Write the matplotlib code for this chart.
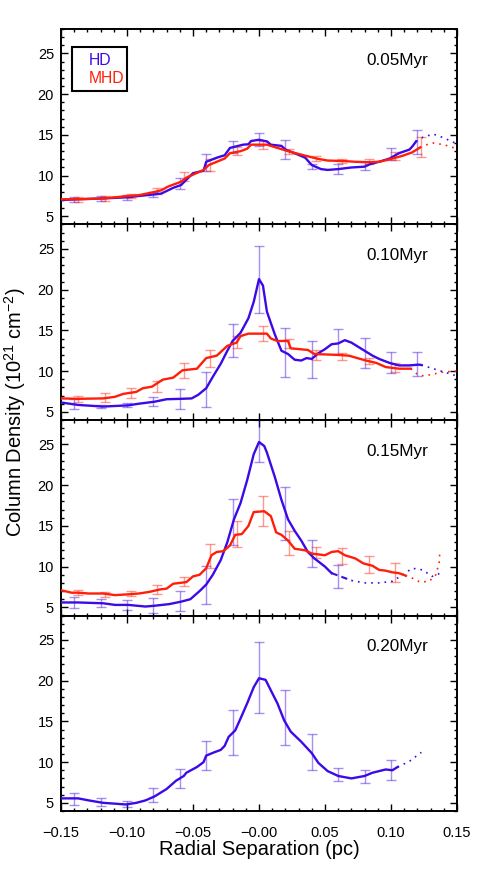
import numpy as np
import matplotlib
matplotlib.use("Agg")
import matplotlib.pyplot as plt
from matplotlib.ticker import MultipleLocator, FixedLocator, FixedFormatter
from matplotlib.patches import Rectangle

plt.rcParams['font.family'] = ['Liberation Sans', 'DejaVu Sans']
plt.rcParams['mathtext.fontset'] = 'custom'
plt.rcParams['mathtext.rm'] = 'Liberation Sans'
plt.rcParams['mathtext.it'] = 'Liberation Sans:italic'

# ---------------- data ----------------
times = ["0.05Myr", "0.10Myr", "0.15Myr", "0.20Myr"]
xtick_vals = [-0.15, -0.10, -0.05, 0.0, 0.05, 0.10, 0.15]
xtick_labels = ["\u22120.15", "\u22120.10", "\u22120.05", "\u22120.00", "0.05", "0.10", "0.15"]
ytick_vals = [5, 10, 15, 20, 25]

# Panel 1 (0.05 Myr)
hd1_x = [-0.150, -0.137, -0.118, -0.099, -0.091, -0.079, -0.074, -0.065, -0.059, -0.055, -0.050, -0.042,
         -0.040, -0.032, -0.026, -0.022, -0.012, -0.008, -0.006, 0.000, 0.006, 0.009, 0.017, 0.020, 0.027,
         0.035, 0.040, 0.047, 0.052, 0.060, 0.070, 0.080, 0.084, 0.091, 0.099, 0.106, 0.114, 0.116, 0.119]
hd1_y = [7.0, 7.1, 7.2, 7.35, 7.5, 7.7, 7.8, 8.5, 8.85, 9.5, 10.3, 10.6, 11.7, 12.2, 12.5, 13.4, 13.8, 13.85,
         14.25, 14.4, 14.2, 13.8, 13.65, 13.2, 12.75, 12.2, 11.3, 10.8, 10.7, 10.8, 11.0, 11.1, 11.4, 11.7,
         12.1, 12.75, 13.2, 13.55, 14.2]
hd1_ext_x = [0.119, 0.124, 0.132, 0.139, 0.150]
hd1_ext_y = [14.2, 14.7, 15.1, 14.7, 13.9]
mhd1_x = [-0.150, -0.137, -0.118, -0.099, -0.091, -0.079, -0.074, -0.069, -0.059, -0.055, -0.042, -0.038,
          -0.032, -0.026, -0.022, -0.014, -0.009, -0.006, 0.006, 0.012, 0.022, 0.035, 0.045, 0.052, 0.063,
          0.073, 0.083, 0.091, 0.099, 0.109, 0.116, 0.122]
mhd1_y = [7.1, 7.1, 7.2, 7.5, 7.6, 8.0, 8.2, 8.65, 9.25, 9.75, 10.7, 11.3, 11.7, 12.1, 12.75, 13.0, 13.3,
          13.8, 13.8, 13.5, 13.0, 12.45, 12.05, 11.85, 11.8, 11.7, 11.65, 11.7, 12.0, 12.45, 12.85, 13.45]
mhd1_ext_x = [0.122, 0.127, 0.132, 0.140, 0.150]
mhd1_ext_y = [13.45, 13.8, 14.0, 13.8, 13.3]
hd1_eb_y = [7.1, 7.2, 7.35, 7.7, 9.0, 11.6, 13.5, 14.4, 13.2, 11.1, 10.8, 11.2, 12.7, 14.1]
hd1_eb_e = [0.3, 0.35, 0.3, 0.3, 0.7, 1.0, 0.75, 0.8, 1.2, 0.3, 0.6, 0.5, 0.75, 1.5]
mhd1_eb_y = [7.1, 7.2, 7.5, 8.1, 9.9, 11.3, 13.0, 13.8, 13.0, 12.1, 11.8, 11.7, 12.4, 13.5]
mhd1_eb_e = [0.3, 0.3, 0.3, 0.35, 0.6, 0.7, 0.5, 0.5, 0.3, 0.3, 0.3, 0.3, 0.5, 1.2]

# Panel 2 (0.10 Myr)
hd2_x = [-0.150, -0.137, -0.118, -0.099, -0.091, -0.079, -0.070, -0.059, -0.051, -0.046, -0.040, -0.035,
         -0.029, -0.024, -0.020, -0.014, -0.008, -0.004, 0.000, 0.003, 0.006, 0.012, 0.017, 0.022, 0.027,
         0.032, 0.036, 0.040, 0.045, 0.050, 0.055, 0.060, 0.065, 0.070, 0.080, 0.086, 0.091, 0.099, 0.106,
         0.114, 0.121, 0.123]
hd2_y = [6.15, 5.85, 5.65, 5.8, 6.0, 6.25, 6.55, 6.6, 6.65, 7.1, 7.9, 9.3, 10.9, 12.5, 13.7, 14.7, 16.5,
         18.5, 21.3, 20.5, 17.3, 14.5, 12.5, 12.1, 11.4, 11.3, 11.6, 11.5, 12.2, 12.7, 13.3, 13.4, 13.8, 13.5,
         12.5, 11.9, 11.5, 11.0, 10.7, 10.7, 10.8, 10.75]
hd2_ext_x = [0.123, 0.130, 0.140, 0.150]
hd2_ext_y = [10.75, 10.4, 9.9, 9.4]
mhd2_x = [-0.150, -0.137, -0.118, -0.109, -0.103, -0.093, -0.088, -0.081, -0.073, -0.065, -0.058, -0.047,
          -0.040, -0.032, -0.024, -0.017, -0.014, -0.008, 0.006, 0.009, 0.014, 0.022, 0.024, 0.037, 0.042,
          0.058, 0.068, 0.081, 0.089, 0.096, 0.106, 0.115]
mhd2_y = [6.65, 6.6, 6.65, 6.85, 7.2, 7.45, 7.9, 8.1, 8.95, 9.2, 10.1, 10.3, 11.6, 11.9, 13.1, 13.5, 14.3,
          14.6, 14.6, 14.0, 13.7, 13.7, 12.8, 12.6, 12.1, 12.0, 11.9, 11.3, 11.0, 10.5, 10.3, 10.3]
mhd2_ext_x = [0.115, 0.120, 0.125, 0.140, 0.150]
mhd2_ext_y = [10.3, 9.6, 9.4, 9.9, 10.0]
hd2_eb_y = [5.95, 5.7, 5.85, 6.3, 6.6, 7.75, 13.75, 21.2, 12.3, 11.45, 13.65, 12.2, 11.05, 10.85]
hd2_eb_e = [0.6, 0.2, 0.2, 0.55, 1.2, 2.1, 2.05, 4.1, 3.0, 2.3, 1.55, 1.85, 1.3, 1.45]
mhd2_eb_y = [6.6, 6.75, 7.35, 8.1, 10.1, 11.6, 13.6, 14.6, 13.4, 12.0, 11.8, 11.2, 10.5]
mhd2_eb_e = [0.35, 0.6, 0.6, 0.7, 0.9, 1.05, 0.75, 0.95, 0.6, 0.6, 0.4, 0.35, 0.55]

# Panel 3 (0.15 Myr)
hd3_x = [-0.150, -0.137, -0.118, -0.109, -0.099, -0.086, -0.079, -0.068, -0.059, -0.052, -0.045, -0.040,
         -0.035, -0.029, -0.024, -0.019, -0.014, -0.009, -0.004, 0.000, 0.004, 0.006, 0.012, 0.017, 0.022,
         0.027, 0.032, 0.037, 0.042, 0.050, 0.055]
hd3_y = [5.6, 5.6, 5.5, 5.3, 5.3, 5.1, 5.2, 5.4, 5.7, 6.0, 7.0, 7.8, 9.0, 10.8, 13.0, 15.8, 17.8, 20.6,
         23.8, 25.3, 24.8, 24.0, 21.0, 18.2, 15.8, 14.4, 13.2, 11.8, 11.0, 10.0, 9.2]
hd3_dash_x = [0.055, 0.060, 0.070]
hd3_dash_y = [9.2, 8.9, 8.3]
hd3_ext_x = [0.070, 0.080, 0.091, 0.101, 0.109, 0.116, 0.124, 0.131, 0.135, 0.137]
hd3_ext_y = [8.3, 8.0, 8.0, 8.2, 9.0, 9.8, 9.6, 8.8, 9.0, 9.2]
mhd3_x = [-0.150, -0.142, -0.137, -0.129, -0.118, -0.109, -0.099, -0.091, -0.083, -0.075, -0.070, -0.065,
          -0.055, -0.050, -0.045, -0.040, -0.036, -0.032, -0.027, -0.022, -0.018, -0.013, -0.008, -0.004,
          0.004, 0.009, 0.013, 0.017, 0.022, 0.027, 0.035, 0.040, 0.050, 0.055, 0.060, 0.065, 0.073, 0.079,
          0.086, 0.091, 0.096, 0.101, 0.106, 0.111]
mhd3_y = [7.1, 6.8, 6.8, 6.7, 6.7, 6.5, 6.6, 6.7, 6.9, 7.2, 7.3, 7.9, 8.1, 8.8, 9.0, 9.8, 11.4, 11.8, 11.9,
          12.6, 13.9, 14.0, 15.0, 16.7, 16.8, 16.2, 14.2, 13.9, 13.2, 12.2, 12.0, 11.6, 11.4, 11.8, 11.9,
          11.4, 11.0, 10.4, 10.1, 9.6, 9.5, 9.3, 9.2, 8.9]
mhd3_ext_x = [0.111, 0.116, 0.122, 0.129, 0.134, 0.1365, 0.137]
mhd3_ext_y = [8.9, 8.6, 8.1, 8.2, 9.0, 10.5, 11.9]
hd3_eb_y = [5.6, 5.5, 5.3, 5.2, 5.8, 7.75, 15.5, 25.4, 16.55, 11.6, 8.8]
hd3_eb_e = [0.7, 0.5, 0.65, 0.9, 1.2, 2.35, 2.85, 2.6, 3.25, 1.7, 1.45]
mhd3_eb_y = [6.8, 6.6, 6.7, 7.2, 8.2, 11.3, 14.0, 16.8, 12.9, 11.7, 11.3, 10.3, 9.3]
mhd3_eb_e = [0.3, 0.3, 0.3, 0.5, 0.55, 1.45, 1.65, 1.85, 1.45, 0.65, 1.0, 1.05, 1.2]

# Panel 4 (0.20 Myr)
hd4_x = [-0.150, -0.137, -0.129, -0.118, -0.109, -0.101, -0.093, -0.086, -0.079, -0.070, -0.063, -0.057,
         -0.055, -0.047, -0.042, -0.040, -0.034, -0.029, -0.026, -0.023, -0.018, -0.014, -0.009, -0.004,
         0.000, 0.005, 0.009, 0.014, 0.019, 0.024, 0.032, 0.040, 0.045, 0.052, 0.060, 0.070, 0.080, 0.086,
         0.091, 0.096, 0.101, 0.105]
hd4_y = [5.55, 5.55, 5.3, 5.0, 4.9, 4.8, 5.0, 5.3, 5.8, 6.7, 7.7, 8.3, 8.7, 9.4, 10.0, 10.8, 11.2, 11.5,
         12.0, 13.1, 13.9, 15.35, 17.2, 19.2, 20.3, 20.1, 18.8, 17.2, 15.15, 13.75, 12.5, 11.1, 9.9, 8.9,
         8.3, 8.0, 8.3, 8.7, 8.9, 9.1, 9.0, 9.4]
hd4_ext_x = [0.105, 0.114, 0.123]
hd4_ext_y = [9.4, 10.1, 11.2]
hd4_eb_y = [5.5, 5.1, 4.9, 5.95, 8.0, 10.8, 13.65, 20.35, 15.5, 11.25, 8.5, 8.2, 9.0]
hd4_eb_e = [0.75, 0.45, 0.35, 0.85, 1.2, 1.8, 2.75, 4.35, 3.4, 2.2, 0.8, 0.8, 1.2]

panels = [
    dict(hd=(hd1_x, hd1_y), hd_ext=(hd1_ext_x, hd1_ext_y), hd_eb=(hd1_eb_y, hd1_eb_e),
         mhd=(mhd1_x, mhd1_y), mhd_ext=(mhd1_ext_x, mhd1_ext_y), mhd_eb=(mhd1_eb_y, mhd1_eb_e)),
    dict(hd=(hd2_x, hd2_y), hd_ext=(hd2_ext_x, hd2_ext_y), hd_eb=(hd2_eb_y, hd2_eb_e),
         mhd=(mhd2_x, mhd2_y), mhd_ext=(mhd2_ext_x, mhd2_ext_y), mhd_eb=(mhd2_eb_y, mhd2_eb_e)),
    dict(hd=(hd3_x, hd3_y), hd_dash=(hd3_dash_x, hd3_dash_y), hd_ext=(hd3_ext_x, hd3_ext_y),
         hd_eb=(hd3_eb_y, hd3_eb_e),
         mhd=(mhd3_x, mhd3_y), mhd_ext=(mhd3_ext_x, mhd3_ext_y), mhd_eb=(mhd3_eb_y, mhd3_eb_e)),
    dict(hd=(hd4_x, hd4_y), hd_ext=(hd4_ext_x, hd4_ext_y), hd_eb=(hd4_eb_y, hd4_eb_e)),
]

BLUE = '#3c0ae6'
RED = '#ff1e0a'
EB_START = -0.14
EB_STEP = 0.02
MHD_EB_SHIFT = 0.003

# ---------------- figure ----------------
fig = plt.figure(figsize=(4.85, 8.72), dpi=100)
left, right = 61 / 485, 457 / 485
top, bottom = 1 - 29 / 872, 1 - 811 / 872
ph = (top - bottom) / 4
axes = []
for i in range(4):
    ax = fig.add_axes([left, top - (i + 1) * ph, right - left, ph])
    axes.append(ax)

for i, (ax, p) in enumerate(zip(axes, panels)):
    # error bars
    ey, ee = p['hd_eb']
    ex = EB_START + EB_STEP * np.arange(len(ey))
    ax.errorbar(ex, ey, yerr=ee, fmt='none', ecolor=BLUE, alpha=0.45, elinewidth=1.0,
                capsize=3.5, capthick=1.0, zorder=2)
    if 'mhd_eb' in p:
        ey, ee = p['mhd_eb']
        ex = EB_START + MHD_EB_SHIFT + EB_STEP * np.arange(len(ey))
        ax.errorbar(ex, ey, yerr=ee, fmt='none', ecolor=RED, alpha=0.45, elinewidth=1.0,
                    capsize=3.5, capthick=1.0, zorder=2)
    # curves
    ax.plot(*p['hd'], color=BLUE, lw=1.7, zorder=3)
    if 'hd_dash' in p:
        ax.plot(*p['hd_dash'], color=BLUE, lw=1.5, ls=(0, (3, 2)), zorder=3)
    ax.plot(*p['hd_ext'], color=BLUE, lw=1.2, ls=(0, (1, 3)), zorder=3)
    if 'mhd' in p:
        ax.plot(*p['mhd'], color=RED, lw=1.7, zorder=4)
        ax.plot(*p['mhd_ext'], color=RED, lw=1.2, ls=(0, (1, 3)), zorder=4)

    ax.set_xlim(-0.15, 0.15)
    ax.set_ylim(4, 28)
    ax.xaxis.set_major_locator(FixedLocator(xtick_vals))
    ax.xaxis.set_minor_locator(MultipleLocator(0.01))
    ax.yaxis.set_major_locator(FixedLocator(ytick_vals))
    ax.yaxis.set_minor_locator(MultipleLocator(1))
    ax.tick_params(which='both', direction='in', top=True, right=True, width=1.0)
    ax.tick_params(which='major', length=5)
    ax.tick_params(which='minor', length=2.5)
    ax.tick_params(axis='y', labelsize=10.5, pad=5)
    ax.tick_params(axis='x', labelsize=10.5, pad=11)
    for s in ax.spines.values():
        s.set_linewidth(1.4)
    if i < 3:
        ax.set_xticklabels([])
    else:
        ax.xaxis.set_major_formatter(FixedFormatter(xtick_labels))
    ax.text(0.927, 0.84, times[i], transform=ax.transAxes, ha='right', va='center', fontsize=12.3)

# legend box in first panel
ax0 = axes[0]
ax0.add_patch(Rectangle((0.0285, 0.684), 0.1385, 0.225, transform=ax0.transAxes,
                        fill=False, edgecolor='black', lw=1.5, zorder=5))
ax0.text(0.069, 0.841, "HD", color=BLUE, transform=ax0.transAxes, ha='left', va='center', fontsize=11.3)
ax0.text(0.069, 0.749, "MHD", color=RED, transform=ax0.transAxes, ha='left', va='center', fontsize=11.3)

axes[3].set_xlabel("Radial Separation (pc)", fontsize=14.5, labelpad=0)
fig.text(15 / 485, 1 - 412 / 872, r"Column Density (10$^{\mathregular{21}}$ cm$^{\mathregular{-2}}$)",
         rotation=90, ha='center', va='center', fontsize=14.5)

fig.savefig("out.png", dpi=100)
